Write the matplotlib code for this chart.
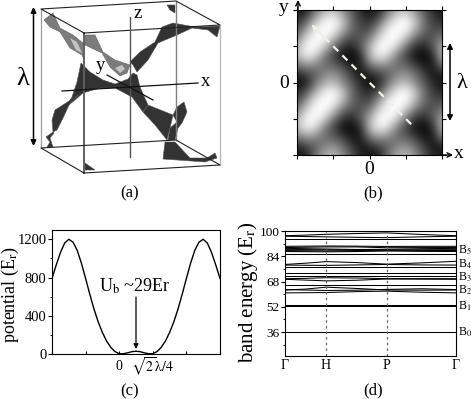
import matplotlib
matplotlib.use("Agg")
import matplotlib.pyplot as plt
from matplotlib.patches import Polygon

W, H = 471, 399
plt.rcParams["font.family"] = ["Liberation Serif", "DejaVu Serif"]
plt.rcParams["mathtext.fontset"] = "stix"

# panel (b) brightness read on a 17x17 grid
field = [
 [20,30,110,170,190,140,90,40,15,30,110,170,190,140,90,40,20],
 [40,80,170,235,250,200,110,60,40,80,170,235,250,200,110,60,40],
 [70,150,235,255,255,190,110,75,70,150,235,255,255,190,110,75,70],
 [120,210,250,255,205,120,80,85,120,210,250,255,205,120,80,85,120],
 [170,250,255,215,120,55,35,85,170,250,255,215,120,55,35,85,170],
 [180,240,220,130,70,20,5,40,180,240,220,130,70,20,5,40,180],
 [120,155,140,110,95,60,25,25,120,155,140,110,95,60,25,25,120],
 [40,70,95,130,145,115,60,20,40,70,95,130,145,115,60,20,40],
 [10,30,110,170,190,140,90,40,10,30,110,170,190,140,90,40,15],
 [40,80,170,235,250,200,110,60,40,80,170,235,250,200,110,60,40],
 [70,150,235,255,255,190,110,75,70,150,235,255,255,190,110,75,70],
 [120,210,250,255,205,120,80,85,120,210,250,255,205,120,80,85,120],
 [170,250,255,215,120,55,35,85,170,250,255,215,120,55,35,85,170],
 [180,240,220,130,70,20,5,40,180,240,220,130,70,20,5,40,180],
 [120,155,140,110,95,60,25,25,120,155,140,110,95,60,25,25,120],
 [40,70,95,130,145,115,60,20,40,70,95,130,145,115,60,20,40],
 [20,30,110,170,190,140,90,40,15,30,110,170,190,140,90,40,20],
]

# panel (c) potential
pot_x = [-2,-1.875,-1.75,-1.625,-1.5,-1.375,-1.25,-1.125,-1,-.875,-.75,-.625,-.5,-.375,-.25,-.125,
         0,.125,.25,.375,.5,.625,.75,.875,1,1.125,1.25,1.375,1.5,1.625,1.75,1.875,
         2,2.125,2.25,2.375,2.5,2.625,2.75,2.875,3]
pot_y = [790,930,1060,1160,1200,1170,1085,950,790,625,470,335,225,135,70,25,
         3,3,12,24,29,24,12,3,3,25,70,135,225,335,470,625,
         790,950,1085,1170,1200,1160,1060,930,790]
pot_ticks = [0, 400, 800, 1200]

# panel (d) bands at gamma .. H .. P .. gamma
band_x = [0, .12, .24, .42, .595, .8, 1]
bands = [
 [36,36,36,36,36,36,36],
 [52.7,52.7,52.7,52.7,52.7,52.7,52.7],
 [53.2,53.2,53.2,53.2,53.2,53.2,53.2],
 [60.8,60.9,61,61.6,61.9,61.2,60.8],
 [62.6,63.2,64.4,63.6,62.6,62.5,62.6],
 [62.9,62.6,62.3,62.5,63,63.4,62.9],
 [65.8,65.8,65.8,65.8,65.8,65.8,65.8],
 [69.4,68.9,68.4,68.8,69.6,69.5,69.4],
 [69.8,70,70.4,70.2,69.8,69.8,69.8],
 [71.6,71.6,71.6,71.6,71.6,71.6,71.6],
 [73.3,73.3,73.3,73.3,73.3,73.3,73.3],
 [77.3,77.3,77.3,77.3,77.3,77.3,77.3],
 [78.4,78.3,78.2,78.5,78.8,78.5,78.4],
 [78.8,79.6,80.6,80,79,79.8,80.8],
 [85.7,85.7,85.7,85.7,85.7,85.7,85.7],
 [87,86.9,86.8,87,87.3,87.1,87],
 [87.6,87.5,87.4,87.6,87.8,87.7,87.6],
 [88.2,88.2,88.1,88.1,88,88.1,88.2],
 [89,88.8,88.6,88.3,88.4,88.8,89],
 [89.5,89.7,89.9,89.9,89.4,89.5,89.5],
 [90.3,90.4,90.5,90.4,90.2,90.3,90.3],
 [95,95,95,95,95,95,95],
 [96.7,96.5,96.3,96,95.8,96.3,96.7],
 [97,97.4,97.9,98.4,98.8,97.8,97],
]
band_ticks = [36, 52, 68, 84, 100]
band_labels = ["B$_5$", "B$_4$", "B$_3$", "B$_2$", "B$_1$", "B$_0$"]
band_label_y = [250, 264, 277, 290, 306, 332]

# panel (a) cube corners and surface outlines, reference pixels
cube_top = [(84,33), (220,25), (176,1), (41,9), (84,33)]
cube_bottom = [(84,173), (220,165), (176,140), (41,148), (84,173)]
verticals = [
 ([41,41], [9,148], "#9a9a9a", 0.9),
 ([176,176], [1,140], "#808080", 1.0),
 ([220,220], [25,165], "#b5b5b5", 0.9),
 ([84,84], [33,173], "#606060", 1.4),
]
dark_parts = [
 # centre star
 [(81,63),(90,72),(103,80),(115,84),(128,79),(133,73),(137,75),(140,87),(148,105),(143,112),(132,97),(115,88),(100,88),(83,93),(75,100),(65,108),(72,97),(77,82)],
 # arm to the upper right
 [(130,62),(140,52),(155,42),(162,27),(173,23),(195,27),(220,26),(217,37),(208,30),(192,28),(177,35),(158,43),(148,60),(137,72),(133,65)],
 # lobe lower left and its tail
 [(55,110),(52,120),(53,132),(57,130),(63,118),(70,103),(78,95),(66,103)],
 [(53,132),(46,137),(50,142),(47,147),(53,147),(50,138),(54,133)],
 # fan lower right
 [(148,105),(173,115),(170,128),(167,140),(155,125),(143,112)],
 [(165,142),(175,142),(190,158),(207,158),(215,153),(217,158),(205,162),(163,159)],
 [(173,115),(177,107),(184,102),(187,112),(182,123),(178,128),(175,140),(168,140),(170,128),(177,122)],
 # corner bits
 [(167,5),(175,5),(175,13),(170,10)],
 [(85,163),(95,170),(85,170)],
]
grey_parts = [
 [(44,20),(53,13),(60,28),(73,35),(83,43),(84,60),(82,55),(70,48),(60,32),(50,27)],
 [(85,35),(95,35),(103,52),(115,60),(130,65),(127,73),(120,76),(110,67),(102,53),(85,45)],
]
light_parts = [
 [(70,38),(77,42),(82,53),(76,50)],
 [(115,68),(122,65),(125,69),(120,73)],
]


def px_axes(left, top, right, bottom):
    return fig.add_axes([left / W, 1 - bottom / H, (right - left) / W, (bottom - top) / H])


fig = plt.figure(figsize=(W / 100, H / 100), dpi=100)

# overlay for everything placed by pixel
ov = fig.add_axes([0, 0, 1, 1], zorder=5)
ov.set_xlim(0, W)
ov.set_ylim(H, 0)
ov.axis("off")

# panel a
for part in dark_parts:
    ov.add_patch(Polygon(part, closed=True, fc="#333333", ec="#555555", lw=0.4))
for part in grey_parts:
    ov.add_patch(Polygon(part, closed=True, fc="#7c7c7c", ec="#666666", lw=0.4))
for part in light_parts:
    ov.add_patch(Polygon(part, closed=True, fc="#c4c4c4", ec="none"))

for xs, ys, col, lw in verticals:
    ov.plot(xs, ys, color=col, lw=lw)
for loop in (cube_top, cube_bottom):
    ov.plot([p[0] for p in loop], [p[1] for p in loop], color="#222222", lw=0.8)
ov.plot([130, 130], [17, 157], color="#555555", lw=1.0)
ov.plot([62, 198], [91, 83], color="#111111", lw=0.9)
ov.plot([107, 153], [75, 100], color="#111111", lw=0.9)

ov.annotate("", xy=(33.5, 7), xytext=(33.5, 146), arrowprops=dict(arrowstyle="<|-|>", color="black", lw=1.1, shrinkA=0, shrinkB=0, mutation_scale=8))
ov.text(23, 79, "λ", fontsize=19, ha="center", va="center")
ov.text(138, 13, "z", fontsize=13.5, ha="center", va="center")
ov.text(206, 82, "x", fontsize=13.5, ha="center", va="center")
ov.text(100, 66, "y", fontsize=13.5, ha="center", va="center")
ov.text(130, 193, "(a)", fontsize=12, ha="center", va="center")

# panel b
ax_b = px_axes(297, 10, 442, 155)
ax_b.imshow(field, cmap="gray", vmin=0, vmax=255, interpolation="bicubic", extent=(-.5, 16.5, 16.5, -.5), aspect="auto")
ax_b.set_xlim(0, 16)
ax_b.set_ylim(16, 0)
ax_b.set_xticks([0, 4, 8, 12, 16])
ax_b.set_yticks([0, 4, 8, 12, 16])
ax_b.tick_params(top=True, right=True, labelbottom=False, labelleft=False, length=3, width=0.8)
ax_b.plot([12.6, 1.95], [12.6, 1.95], color="#f2efe2", lw=1.6, ls=(0, (3.2, 2.6)))
ax_b.annotate("", xy=(1.6, 1.6), xytext=(3.0, 3.0), arrowprops=dict(arrowstyle="->", color="#f2efe2", lw=1.3, mutation_scale=9, shrinkA=0, shrinkB=0))

ov.annotate("", xy=(298, 0), xytext=(298, 11), arrowprops=dict(arrowstyle="->", color="black", lw=1, mutation_scale=8, shrinkA=0, shrinkB=0))
ov.annotate("", xy=(453, 155), xytext=(441, 155), arrowprops=dict(arrowstyle="->", color="black", lw=1, mutation_scale=8, shrinkA=0, shrinkB=0))
ov.annotate("", xy=(450, 43), xytext=(450, 121), arrowprops=dict(arrowstyle="<|-|>", color="black", lw=1.1, shrinkA=0, shrinkB=0, mutation_scale=8))
ov.text(284, 8, "y", fontsize=14, ha="center", va="center")
ov.text(459, 153, "x", fontsize=14, ha="center", va="center")
ov.text(284, 83, "0", fontsize=14, ha="center", va="center")
ov.text(369, 170, "0", fontsize=14, ha="center", va="center")
ov.text(462, 83, "λ", fontsize=16, ha="center", va="center")
ov.text(373, 193, "(b)", fontsize=12, ha="center", va="center")

# panel c
ax_c = px_axes(52, 230, 220, 354)
ax_c.plot(pot_x, pot_y, color="black", lw=1.0)
ax_c.set_xlim(-2, 3)
ax_c.set_ylim(0, 1297)
ax_c.set_yticks(pot_ticks)
ax_c.set_yticks([200, 600, 1000], minor=True)
ax_c.set_xticks([-2, -1, 0, 1, 2, 3])
ax_c.set_xticklabels(["", "", "0", r"$\sqrt{2}\mathrm{\lambda}/4$", "", ""])
ax_c.tick_params(axis="x", direction="in", length=2, width=0.8, labelsize=10, pad=9)
for lab in ax_c.get_xticklabels():
    lab.set_va("center")
ax_c.tick_params(axis="y", length=3, width=0.8, labelsize=10.5, pad=1)
ax_c.tick_params(axis="y", which="minor", length=1.5, width=0.6)
ov.text(10, 295, "potential (E$_{\\mathrm{r}}$)", fontsize=13, rotation=90, ha="center", va="center")
ov.text(135, 286, "U$_{\\mathrm{b}}$ ~29Er", fontsize=13, ha="center", va="center")
ov.annotate("", xy=(136, 349), xytext=(136, 297), arrowprops=dict(arrowstyle="-|>", color="black", lw=0.9, shrinkA=0, shrinkB=0, mutation_scale=7))
ov.text(130, 391, "(c)", fontsize=12, ha="center", va="center")

# panel d
ax_d = px_axes(285, 231, 456, 356)
for b in bands:
    ax_d.plot(band_x, b, color="black", lw=0.75)
for xv in (.24, .595):
    ax_d.axvline(xv, color="#666666", lw=0.9, ls=(0, (2, 2.5)))
ax_d.set_xlim(0, 1)
ax_d.set_ylim(20.8, 100)
ax_d.set_yticks(band_ticks)
ax_d.set_yticks([28, 44, 60, 76, 92], minor=True)
ax_d.set_xticks([0, .24, .595, 1])
ax_d.set_xticklabels(["Γ", "H", "P", "Γ"])
ax_d.tick_params(axis="x", length=0, labelsize=10, pad=2)
ax_d.tick_params(axis="y", length=3, width=0.8, labelsize=9.5, pad=1)
ax_d.tick_params(axis="y", which="minor", length=1.5, width=0.6)
for lab, y in zip(band_labels, band_label_y):
    ov.text(458, y, lab, fontsize=8.5, ha="left", va="center")
ov.text(248, 292, "band energy (E$_{\\mathrm{r}}$)", fontsize=15, rotation=90, ha="center", va="center")
ov.text(373, 390, "(d)", fontsize=12, ha="center", va="center")

fig.savefig("out.png", dpi=100)
